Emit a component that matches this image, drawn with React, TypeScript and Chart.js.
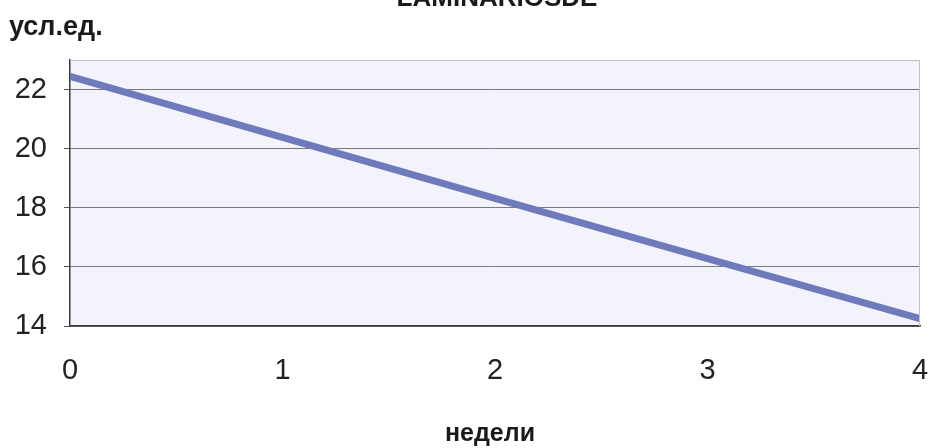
import React, { useEffect, useRef } from "react";
import { Chart, registerables } from "chart.js";

Chart.register(...registerables);

const weeks = [0, 1, 2, 3, 4];
const values = [22.45, 20.38, 18.32, 16.28, 14.25];
const yTicks = [14, 16, 18, 20, 22];
const xTicks = [0, 1, 2, 3, 4];
const chartTitle = "LAMINARIOSDE";
const yLabel = "усл.ед.";
const xLabel = "недели";

const FONT = "'Liberation Sans', Arial, sans-serif";

const decor = {
  id: "decor",
  beforeDraw(chart: any) {
    const { ctx, chartArea: a } = chart;
    ctx.save();
    ctx.fillStyle = "#F3F3FC";
    ctx.fillRect(a.left, a.top, a.right - a.left, a.bottom - a.top);
    ctx.restore();
  },
  afterDraw(chart: any) {
    const { ctx, chartArea: a } = chart;
    ctx.save();
    ctx.strokeStyle = "#c0c0c8";
    ctx.lineWidth = 1;
    ctx.beginPath();
    ctx.moveTo(a.left, a.top + 0.5);
    ctx.lineTo(a.right, a.top + 0.5);
    ctx.moveTo(a.right - 0.5, a.top);
    ctx.lineTo(a.right - 0.5, a.bottom);
    ctx.stroke();
    ctx.fillStyle = "#1a1a1a";
    ctx.textBaseline = "alphabetic";
    ctx.font = "bold 26px " + FONT;
    ctx.textAlign = "center";
    ctx.fillText(chartTitle, 497, 6);
    ctx.font = "bold 27px " + FONT;
    ctx.textAlign = "left";
    ctx.fillText(yLabel, 9, 35);
    ctx.font = "bold 25px " + FONT;
    ctx.textAlign = "center";
    ctx.fillText(xLabel, 490, 441);
    ctx.restore();
  },
};

export default function App() {
  const ref = useRef<HTMLCanvasElement>(null);
  useEffect(() => {
    const chart = new Chart(ref.current!, {
      type: "line",
      data: {
        datasets: [
          {
            data: weeks.map((w, i) => ({ x: w, y: values[i] })),
            borderColor: "#6F7ABD",
            borderWidth: 7,
            pointRadius: 0,
            tension: 0,
          },
        ],
      },
      options: {
        animation: false,
        responsive: false,
        layout: { padding: { top: 60, right: 12, left: 0, bottom: 0 } },
        plugins: { legend: { display: false }, tooltip: { enabled: false }, title: { display: false } },
        scales: {
          x: {
            type: "linear",
            min: 0,
            max: 4,
            afterBuildTicks: (s: any) => {
              s.ticks = xTicks.map((v) => ({ value: v }));
            },
            afterFit: (s: any) => {
              s.height = 122;
              s.paddingLeft = 0;
              s.paddingRight = 0;
            },
            grid: { display: true, drawOnChartArea: false, drawTicks: false },
            border: { display: true, color: "#3a3a3a", width: 1.5 },
            ticks: { padding: 28, color: "#222", font: { family: FONT, size: 29 } },
          },
          y: {
            min: 14,
            max: 23,
            afterBuildTicks: (s: any) => {
              s.ticks = yTicks.map((v) => ({ value: v }));
            },
            afterFit: (s: any) => {
              s.width = 70;
              s.paddingTop = 0;
              s.paddingBottom = 0;
            },
            grid: { color: "#7a7a7a", lineWidth: 1, tickLength: 6, tickColor: "#555" },
            border: { display: true, color: "#3a3a3a", width: 1.5 },
            ticks: { padding: 17, color: "#222", font: { family: FONT, size: 29 } },
          },
        },
      },
      plugins: [decor],
    });
    return () => chart.destroy();
  }, []);
  return (
    <div style={{ position: "absolute", left: 0, top: 0, width: 932, height: 448, background: "#fff" }}>
      <canvas ref={ref} width={932} height={448} style={{ width: 932, height: 448 }} />
    </div>
  );
}
